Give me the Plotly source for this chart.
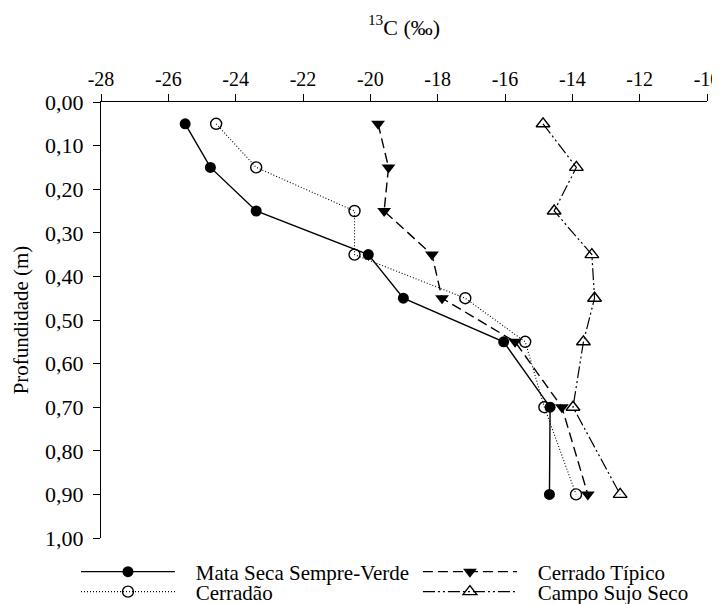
import plotly.graph_objects as go

depth = [0.05, 0.15, 0.25, 0.35, 0.45, 0.55, 0.70, 0.90]
mata_seca = [-25.50, -24.75, -23.39, -20.06, -19.02, -16.04, -14.66, -14.68]
cerradao = [-24.58, -23.39, -20.47, -20.47, -17.18, -15.40, -14.83, -13.89]
cerrado_tipico = [-19.77, -19.46, -19.59, -18.17, -17.87, -15.70, -14.31, -13.54]
campo_sujo = [-14.87, -13.88, -14.54, -13.42, -13.34, -13.67, -13.98, -12.58]

series_names = ["Mata Seca Sempre-Verde", "Cerrado Típico", "Cerradão", "Campo Sujo Seco"]

x_ticks = [-28, -26, -24, -22, -20, -18, -16, -14, -12, -10]
x_ticktext = ["-28", "-26", "-24", "-22", "-20", "-18", "-16", "-14", "-12", "-10"]
y_ticks = [0.0, 0.1, 0.2, 0.3, 0.4, 0.5, 0.6, 0.7, 0.8, 0.9, 1.0]
y_ticktext = ["0,00", "0,10", "0,20", "0,30", "0,40", "0,50", "0,60", "0,70", "0,80", "0,90", "1,00"]

FONT = "Liberation Serif"
PAD = "\u00a0\u00a0\u00a0"

fig = go.Figure()
fig.add_trace(go.Scatter(
    x=mata_seca, y=depth, name=PAD + series_names[0], mode="lines+markers", legend="legend",
    line=dict(color="black", width=1.4, dash="solid"),
    marker=dict(symbol="circle", size=11, color="black")))
fig.add_trace(go.Scatter(
    x=cerrado_tipico, y=depth, name=PAD + series_names[1], mode="lines+markers", legend="legend2",
    line=dict(color="black", width=1.4, dash="10px,5px"),
    marker=dict(symbol="triangle-down", size=12, color="black")))
fig.add_trace(go.Scatter(
    x=cerradao, y=depth, name=PAD + series_names[2], mode="lines+markers", legend="legend3",
    line=dict(color="black", width=1.1, dash="1px,2px"),
    marker=dict(symbol="circle-open", size=11, color="black", line=dict(width=1.4))))
fig.add_trace(go.Scatter(
    x=campo_sujo, y=depth, name=PAD + series_names[3], mode="lines+markers", legend="legend4",
    line=dict(color="black", width=1.2, dash="12px,3px,2px,3px,2px,3px"),
    marker=dict(symbol="triangle-up-open", size=12, color="black", line=dict(width=1.4))))

def leg(x, y):
    return dict(x=x, y=y, xanchor="left", yanchor="middle", itemwidth=94,
                font=dict(family=FONT, size=21, color="black"),
                bgcolor="rgba(0,0,0,0)", borderwidth=0)

fig.update_layout(
    width=720, height=604,
    margin=dict(l=93, r=21, t=94, b=74, autoexpand=False),
    plot_bgcolor="white", paper_bgcolor="white",
    font=dict(family=FONT, size=21, color="black"),
    title=dict(text="<sup>13</sup>C (‰)", x=396 / 720, xanchor="center", xref="container",
               y=1 - 19 / 604, yref="container", yanchor="middle",
               font=dict(family=FONT, size=22, color="black")),
    xaxis=dict(side="top", range=[-28, -10], tickvals=x_ticks, ticktext=x_ticktext,
               showgrid=False, zeroline=False, showline=True, linecolor="black", linewidth=1.3,
               ticks="outside", ticklen=7, tickcolor="black", tickwidth=1.3,
               ticklabeloverflow="allow",
               tickfont=dict(family=FONT, size=20)),
    yaxis=dict(range=[1, 0], tickvals=y_ticks, ticktext=y_ticktext,
               showgrid=False, zeroline=False, showline=True, linecolor="black", linewidth=1.3,
               ticks="outside", ticklen=7, tickcolor="black", tickwidth=1.3,
               ticklabelstandoff=5, ticklabeloverflow="allow",
               tickfont=dict(family=FONT, size=22),
               title=dict(text="Profundidade (m)", font=dict(family=FONT, size=21), standoff=10)),
    legend=leg(-0.0413, -0.0780),
    legend2=leg(0.523, -0.0780),
    legend3=leg(-0.0413, -0.1238),
    legend4=leg(0.523, -0.1238),
    showlegend=True,
)

fig.write_html("out.html")
